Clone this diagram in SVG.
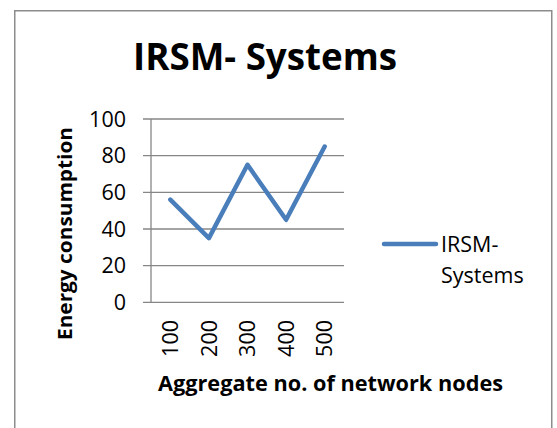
<svg xmlns="http://www.w3.org/2000/svg" width="557" height="428" viewBox="0 0 557 428">
  <style>
    .frame { fill: #ffffff; stroke: #8c8c8c; stroke-width: 1.5; }
    .grid { stroke: #868686; stroke-width: 1.3; fill: none; }
    .series { stroke: #4a7ebb; stroke-width: 4.5; fill: none; stroke-linejoin: round; stroke-linecap: round; }
    .tick { font-family: "Open Sans", "Liberation Sans", sans-serif; font-size: 21.5px; fill: #000; }
    .title { font-family: "Open Sans", "Liberation Sans", sans-serif; font-weight: bold; fill: #000; }
  </style>

  <!-- chart area frame -->
  <rect class="frame" x="14.75" y="10.75" width="537" height="430"/>

  <!-- chart title -->
  <g id="chart-title">
    <text class="title" x="133" y="70" font-size="38" textLength="264" lengthAdjust="spacingAndGlyphs">IRSM- Systems</text>
  </g>

  <!-- value axis: gridlines, axis line and labels -->
  <g id="value-axis">
    <line class="grid" x1="143" y1="119" x2="344" y2="119"/>
    <line class="grid" x1="143" y1="155.7" x2="344" y2="155.7"/>
    <line class="grid" x1="143" y1="192.3" x2="344" y2="192.3"/>
    <line class="grid" x1="143" y1="229" x2="344" y2="229"/>
    <line class="grid" x1="143" y1="265.7" x2="344" y2="265.7"/>
    <line class="grid" x1="143" y1="302.3" x2="344" y2="302.3"/>
    <line class="grid" x1="151" y1="119" x2="151" y2="302.3"/>
    <g class="tick" text-anchor="end">
      <text x="126" y="126.7">100</text>
      <text x="126" y="163.4">80</text>
      <text x="126" y="200">60</text>
      <text x="126" y="236.7">40</text>
      <text x="126" y="273.4">20</text>
      <text x="126" y="310">0</text>
    </g>
    <text class="title" font-size="19" text-anchor="middle" transform="translate(72 233.5) rotate(-90)" textLength="213" lengthAdjust="spacingAndGlyphs">Energy consumption</text>
  </g>

  <!-- category axis labels -->
  <g id="category-axis">
    <g class="tick" text-anchor="end">
      <text transform="translate(178 320) rotate(-90)">100</text>
      <text transform="translate(216.6 320) rotate(-90)">200</text>
      <text transform="translate(255.2 320) rotate(-90)">300</text>
      <text transform="translate(293.8 320) rotate(-90)">400</text>
      <text transform="translate(332.4 320) rotate(-90)">500</text>
    </g>
    <text class="title" x="158" y="390.5" font-size="20.5" textLength="345" lengthAdjust="spacingAndGlyphs">Aggregate no. of network nodes</text>
  </g>

  <!-- data series -->
  <g id="series-irsm">
    <polyline class="series" points="170.3,199.6 208.9,238.1 247.5,164.8 286.1,219.8 324.7,146.5"/>
  </g>

  <!-- legend -->
  <g id="legend">
    <line class="series" x1="384" y1="244" x2="436" y2="244"/>
    <text class="tick" x="441" y="251.7">IRSM-</text>
    <text class="tick" x="441" y="283.3">Systems</text>
  </g>
</svg>
